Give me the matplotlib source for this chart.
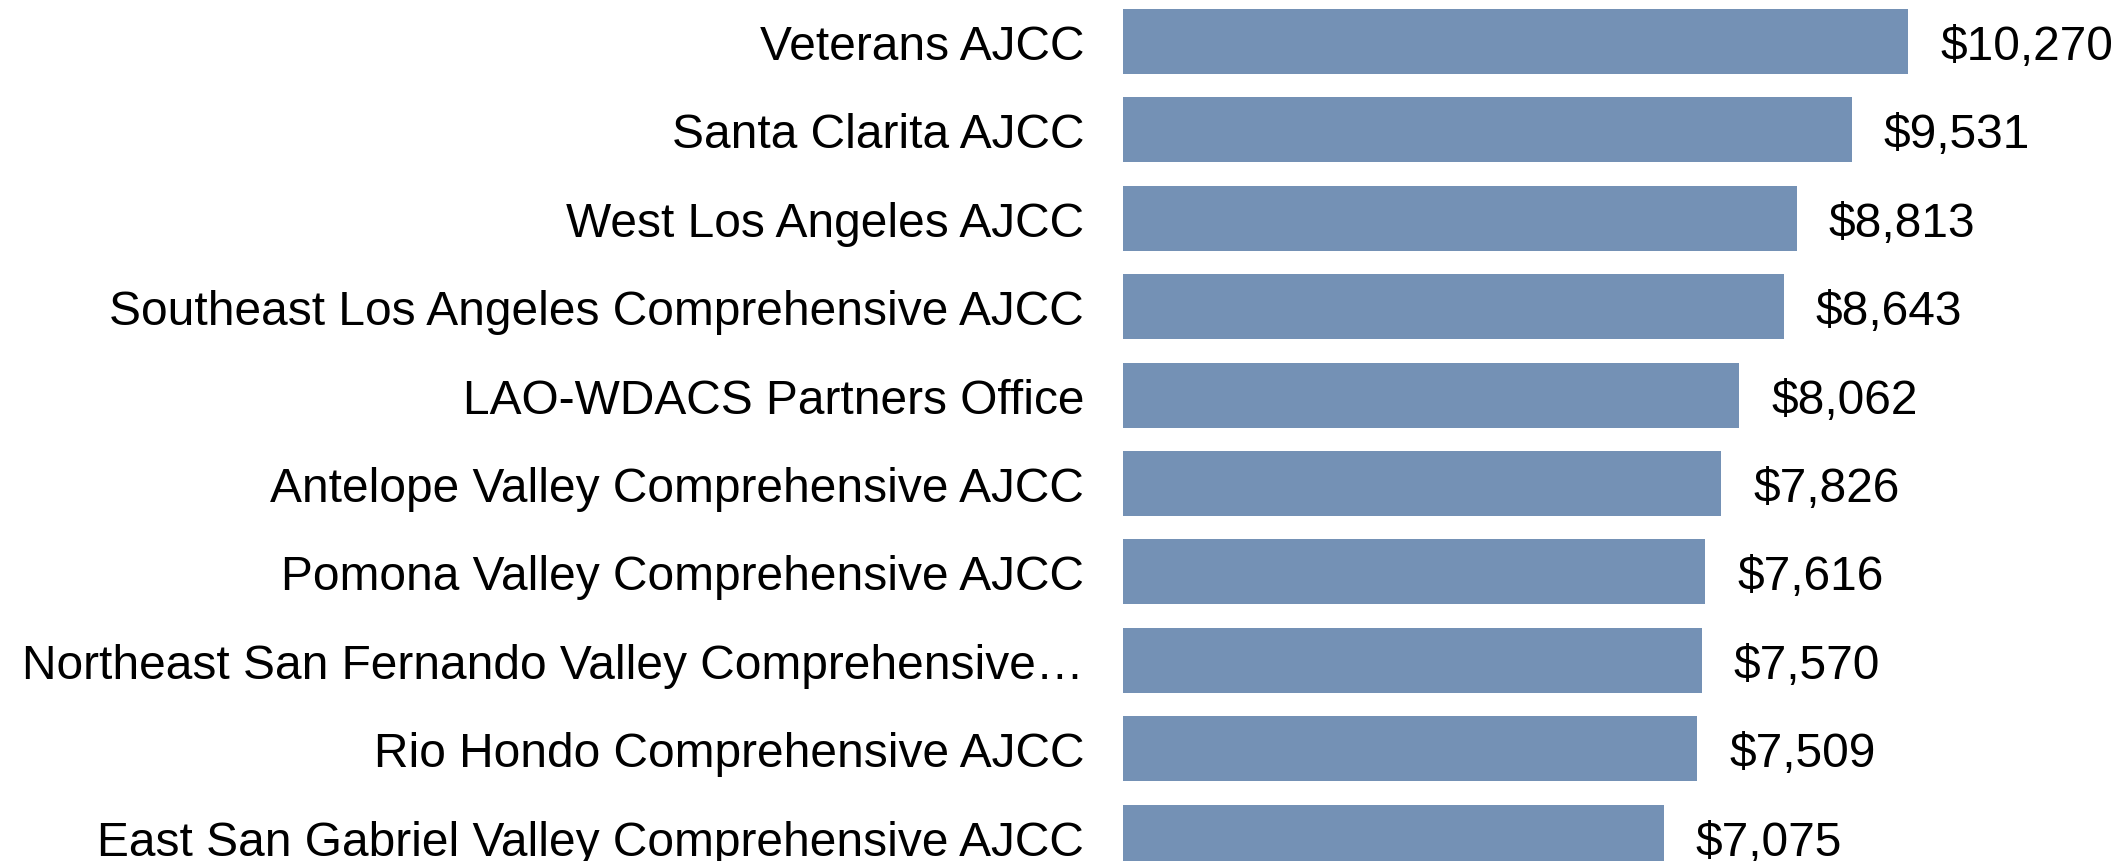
import matplotlib
matplotlib.use('Agg')
import matplotlib.pyplot as plt

# data
centers = [
    'Veterans AJCC',
    'Santa Clarita AJCC',
    'West Los Angeles AJCC',
    'Southeast Los Angeles Comprehensive AJCC',
    'LAO-WDACS Partners Office',
    'Antelope Valley Comprehensive AJCC',
    'Pomona Valley Comprehensive AJCC',
    'Northeast San Fernando Valley Comprehensive\u2026',
    'Rio Hondo Comprehensive AJCC',
    'East San Gabriel Valley Comprehensive AJCC',
]
costs = [10270, 9531, 8813, 8643, 8062, 7826, 7616, 7570, 7509, 7075]

plt.rcParams['font.family'] = ['Liberation Sans', 'DejaVu Sans']

W, H = 2117, 862
fig = plt.figure(figsize=(W / 100, H / 100), dpi=100)
left = 1123 / W
ax = fig.add_axes([left, 0, 1 - left, 1])

ypos = list(range(len(centers)))
ax.barh(ypos, costs, height=0.735, color='#7491b5')

for y, v in zip(ypos, costs):
    ax.text(v + 420, y, f'${v:,}', va='center_baseline', ha='left', fontsize=34.5, color='black')

ax.set_yticks(ypos)
ax.set_yticklabels(centers, fontsize=34.5, va='center_baseline')
ax.tick_params(axis='y', length=0, pad=28)
ax.set_xticks([])
ax.set_xlim(0, 13003)
ax.set_ylim(9.27, -0.481)
for s in ax.spines.values():
    s.set_visible(False)

fig.savefig('out.png', dpi=100)
